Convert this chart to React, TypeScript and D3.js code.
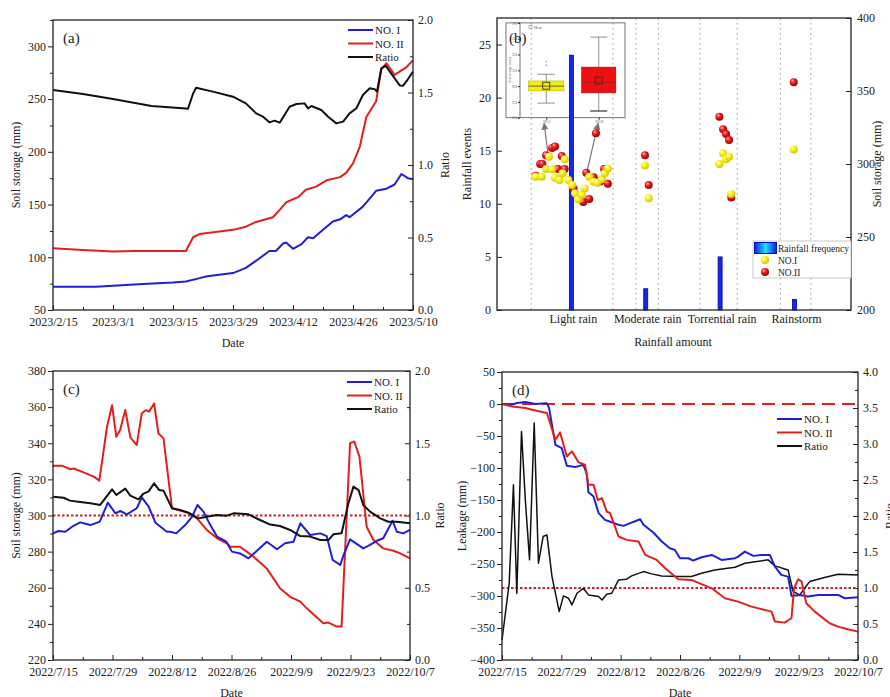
import React, { useEffect, useRef } from "react";
import * as d3 from "d3";

type Pt = [number, number];

const FONT = "'Liberation Serif', 'Times New Roman', serif";
const BLUE = "#1f1fd6";
const RED = "#e0201c";
const BLACK = "#111111";

// ---- (a) spring 2023, [day since 2023/2/15, value]
const aNoI: Pt[] = [[0,72],[10,72],[14,73],[21,74.6],[28,76],[31,77],[34,80],[36,82],[42,85],[45,90],[47.5,97],[50.5,106],[52,106],[53.7,113],[54.4,114],[56,108],[58,112.5],[59.5,119],[60.7,118],[63,126],[65.3,134],[67,136],[68.4,140],[69.2,138],[72.3,148],[75.4,163],[77.8,165],[79.7,169],[81.3,179],[82.8,175],[84,174]];
const aNoII: Pt[] = [[0,108.5],[7,107],[14,105.5],[18.7,106],[31,106],[32.7,119],[34.2,122],[42,126],[45,129],[47.4,133.5],[51.3,138],[52.9,145],[54.4,152],[56,155],[57.2,157],[59,164],[61.4,167],[63.8,173],[67,176],[68.4,180],[70,189],[71.6,205],[73.1,233],[75.4,248],[76.6,278],[77.8,284],[79.7,273],[82.4,280],[84,287]];
const aRatio: Pt[] = [[0,1.517],[7,1.49],[14,1.455],[23,1.407],[31,1.39],[31.5,1.388],[32.7,1.494],[33.4,1.533],[37.3,1.506],[42,1.471],[45,1.425],[47.4,1.356],[49,1.333],[50.5,1.294],[51.7,1.306],[52.9,1.292],[55.2,1.402],[56.8,1.421],[58.7,1.425],[59.5,1.391],[60.3,1.407],[62.6,1.379],[64.2,1.333],[66.1,1.287],[67.7,1.299],[69.2,1.356],[70.8,1.391],[72.3,1.483],[73.9,1.529],[75.1,1.522],[75.6,1.506],[76.6,1.667],[77.6,1.685],[78.9,1.632],[80.9,1.549],[81.7,1.547],[82.8,1.591],[84,1.644]];

// ---- (c) summer 2022, [day since 2022/7/15, value]
const cNoI: Pt[] = [[0,290.1],[1.3,291.4],[2.9,291],[4.5,293.8],[6.4,296.2],[8.8,294.7],[11,296.6],[12.9,307.1],[14.7,301.2],[15.8,302.5],[17.4,300.6],[19.7,304],[20.9,310],[22.5,304.9],[24.1,296],[26.8,291],[27.6,291],[29,290.1],[31.1,294.7],[32.7,299.3],[34,305.8],[35.4,302.1],[36.6,296.6],[38.6,288.3],[40.8,285.5],[42.1,280],[44,279],[46,276.3],[47.6,279.6],[50.3,285.5],[52.7,281.3],[54.6,284.6],[56.6,285.5],[58.2,295.7],[60.5,289.2],[62.9,290.1],[64.4,288.6],[65.8,275.4],[67.6,272.6],[68.3,277.6],[69.9,286.8],[73,281.8],[74.6,283.7],[76.2,286],[77.7,287.4],[79.9,297.1],[80.9,291],[82.4,290.1],[84,292]];
const cNoII: Pt[] = [[0,327.6],[2.1,327.6],[4.1,325.6],[4.9,326],[7.2,323.9],[9.6,321.5],[10.9,319.3],[12.7,349],[13.9,361],[14.9,343.6],[15.8,347.3],[17,358.4],[18.2,343.3],[19.7,339],[20.9,356.6],[21.9,358.4],[22.6,357.5],[23.8,362],[24.8,345.5],[26,342.7],[28,304],[29.9,302.7],[31.5,301.6],[33.9,298.4],[36.2,292],[38.6,287.4],[40.9,284.6],[41.7,282.7],[44,282.7],[45.6,280],[47.2,277.2],[50.3,270.7],[53.4,259.7],[55.8,255],[58.2,252.3],[59.7,248.6],[63.6,240.3],[64.8,240.7],[66.8,238.5],[67.9,238.5],[69.9,340],[70.9,341],[72.1,332.6],[73.8,293.8],[75.4,286.4],[77.7,281.8],[80.1,280.5],[81.7,279],[84,276.3]];
const cRatio: Pt[] = [[0,1.13],[2.5,1.123],[4,1.103],[6.4,1.093],[8.8,1.084],[11.1,1.073],[13.9,1.181],[14.9,1.142],[17,1.186],[18.2,1.137],[20.1,1.112],[21.2,1.149],[22.5,1.167],[23.8,1.223],[25,1.176],[26,1.172],[28,1.05],[29.9,1.038],[31.9,1.02],[34.2,0.98],[36.2,0.992],[38.6,1.003],[40.9,0.999],[42.5,1.015],[46,1.008],[48.7,0.969],[51.1,0.937],[53.4,0.927],[55.8,0.9],[58.2,0.858],[60.5,0.854],[62.9,0.83],[64.8,0.83],[66,0.87],[67.9,0.877],[69.5,1.084],[70.7,1.2],[71.9,1.176],[73,1.073],[74.6,1.027],[77,0.98],[78.9,0.957],[80.9,0.957],[84,0.946]];

// ---- (d) leakage, summer 2022
const dNoI: Pt[] = [[0,0],[2.4,-1],[3.5,1.5],[5.5,3],[7.9,0],[10.6,1],[11.1,-6],[12.6,-63.7],[14.1,-69],[15.3,-96.6],[17.3,-98.6],[19.2,-95],[20,-109],[20.4,-138],[21.6,-144.5],[22.8,-170.6],[24.3,-181],[25.9,-184.7],[27.5,-188.8],[28.7,-190.4],[29.8,-187.3],[32.6,-180],[33.4,-188.8],[35.7,-200.8],[37.7,-214.9],[39.6,-225.3],[40.8,-228],[42,-241],[44,-241],[45.1,-244.6],[47.1,-239.4],[49.5,-235.8],[51.8,-243.6],[55,-241],[55.7,-238.4],[57.3,-230.6],[59.3,-237.3],[61.2,-235.8],[63.2,-235.8],[64.4,-254],[65.9,-267],[67.5,-269.7],[68.3,-299.9],[70.3,-298.3],[72.2,-300.9],[74.6,-298.3],[76.9,-298.3],[79.3,-298.3],[80.9,-303.5],[84,-302]];
const dNoII: Pt[] = [[0,0],[2.4,-4],[5.5,-6.4],[7.9,-10],[10.6,-14],[12.6,-56],[13.7,-44.4],[15.3,-82],[16.5,-74],[18.1,-91.3],[19.6,-95],[20.4,-126.3],[21.6,-126.3],[22.6,-150],[23.6,-147.1],[24.7,-168],[25.5,-170.6],[27.5,-207],[29.4,-212.3],[32.2,-214.9],[33.8,-235.8],[36.5,-243.6],[38.5,-256.6],[41.6,-273.8],[44.7,-274.9],[49.5,-288],[52.6,-303.5],[55.7,-308.8],[58.9,-316.6],[63.6,-324.4],[64.4,-340],[66.7,-341.6],[68.3,-334.8],[68.9,-288],[69.9,-273.8],[70.7,-277.5],[71.8,-311.4],[73.8,-324.4],[77.3,-342.6],[79.3,-347.9],[81.6,-352],[84,-355.7]];
const dRatio: Pt[] = [[0,0.278],[0.8,0.649],[1.7,1.066],[2.7,2.433],[3.5,0.927],[4.6,3.175],[5.5,2.225],[6.5,1.391],[7.6,3.291],[8.6,1.344],[9.7,1.715],[10.6,1.738],[11.8,1.159],[13.5,0.672],[14.5,0.89],[15.7,0.857],[16.5,0.765],[17.7,0.927],[19.2,0.997],[20.4,0.904],[22.8,0.881],[23.6,0.834],[24.7,0.913],[25.9,0.927],[27.5,1.112],[29.4,1.122],[30.6,1.168],[33.4,1.228],[35.3,1.196],[37.7,1.168],[41.6,1.159],[44.7,1.159],[47.1,1.205],[50.2,1.251],[55,1.289],[57.3,1.344],[62.8,1.391],[64.4,1.307],[67.5,1.251],[68.7,0.95],[70.3,0.904],[71.4,0.997],[72.6,1.089],[76.1,1.145],[79.3,1.191],[84,1.182]];

// ---- (b) rainfall classes
const rainCats = ["Light rain", "Moderate rain", "Torrential rain", "Rainstorm"];
const rainFreq = [24, 2, 5, 1];
const bGrid = [0.46, 1.56, 1.87, 2.17, 2.73, 3.23, 3.81, 4.22];
// [category position, soil storage]
const bNoI: Pt[] = [[0.52,291.3],[0.6,291.3],[0.66,296.6],[0.7,305],[0.74,296.4],[0.78,290.6],[0.84,289],[0.91,303.2],[0.88,293.6],[0.96,289],[1.01,285.6],[1.05,280],[1.09,275.8],[1.14,278.8],[1.18,283.3],[1.24,291.3],[1.3,287.9],[1.35,287.2],[1.41,289.5],[1.45,293.6],[1.49,297],[1.99,299],[2.04,276.5],[2.99,300],[3.04,307.3],[3.08,303.2],[3.12,305],[3.15,279.5],[3.99,310]];
const bNoII: Pt[] = [[0.52,292],[0.58,300],[0.61,300],[0.66,306],[0.74,311],[0.78,312],[0.87,305.5],[0.82,296.5],[0.91,296.5],[1.03,283],[1.16,274],[1.24,276],[1.2,294],[1.33,321],[1.3,291],[1.39,288],[1.44,296.5],[1.49,286.5],[1.99,306],[2.04,285.6],[2.99,332.4],[3.04,323.8],[3.08,320.5],[3.12,316.4],[3.15,277],[3.99,356]];
// inset box plot: [lower whisker, q1, median, q3, upper whisker]
const boxNoI = [268.5, 284, 290, 296.5, 305];
const boxNoII = [258.5, 281.5, 295.5, 314, 352];
const meanNoI = 290.5;
const meanNoII = 297;
const outNoI = [316.5, 321];
const insetTicks = [250, 270, 290, 310, 330, 350, 370];

const legendNames = ["NO. I", "NO. II", "Ratio"];

const DAY = 864e5;
const fmtDate = d3.timeFormat("%Y/%-m/%-d");

function styleAxis(a: any, size = 12) {
  a.attr("font-family", FONT).attr("font-size", size);
  a.select(".domain").remove();
  a.selectAll("line").attr("stroke", "#222").attr("stroke-width", 1);
  a.selectAll("text").attr("fill", "#222");
  return a;
}

function vText(g: any, x: number, y: number, t: string) {
  g.append("text")
    .attr("transform", `translate(${x},${y}) rotate(-90)`)
    .attr("text-anchor", "middle")
    .attr("font-family", FONT)
    .attr("font-size", 12)
    .attr("fill", "#222")
    .text(t);
}

function linePanel(svg: any, o: any) {
  const g = svg.append("g");
  const start = o.start as Date;
  const x = d3.scaleTime().domain([start, new Date(start.getTime() + 84 * DAY)]).range([o.x0, o.x1]);
  const yl = d3.scaleLinear().domain(o.left).range([o.y1, o.y0]);
  const yr = d3.scaleLinear().domain(o.right).range([o.y1, o.y0]);
  const xd = (d: number) => x(new Date(start.getTime() + d * DAY));

  const majors = d3.range(0, 85, 14).map((d) => new Date(start.getTime() + d * DAY));
  const minors = d3.range(7, 85, 14).map((d) => new Date(start.getTime() + d * DAY));

  styleAxis(g.append("g").attr("transform", `translate(0,${o.y1})`)
    .call(d3.axisBottom(x).tickValues(majors).tickFormat(fmtDate as any).tickSize(-5).tickPadding(7)));
  styleAxis(g.append("g").attr("transform", `translate(0,${o.y1})`)
    .call(d3.axisBottom(x).tickValues(minors).tickFormat(() => "").tickSize(-3)));

  styleAxis(g.append("g").attr("transform", `translate(${o.x0},0)`)
    .call(d3.axisLeft(yl).tickValues(o.leftTicks).tickFormat(d3.format("d")).tickSize(5).tickPadding(o.lpad)));
  styleAxis(g.append("g").attr("transform", `translate(${o.x0},0)`)
    .call(d3.axisLeft(yl).tickValues(o.leftMinor).tickFormat(() => "").tickSize(3)));

  styleAxis(g.append("g").attr("transform", `translate(${o.x1},0)`)
    .call(d3.axisRight(yr).tickValues(o.rightTicks).tickFormat(d3.format(".1f")).tickSize(-5).tickPadding(5)));
  styleAxis(g.append("g").attr("transform", `translate(${o.x1},0)`)
    .call(d3.axisRight(yr).tickValues(o.rightMinor).tickFormat(() => "").tickSize(-3)));

  // reference lines
  if (o.dashZero !== undefined) {
    g.append("line").attr("x1", o.x0).attr("x2", o.x1)
      .attr("y1", yl(o.dashZero)).attr("y2", yl(o.dashZero))
      .attr("stroke", RED).attr("stroke-width", 2).attr("stroke-dasharray", "13,7");
  }
  if (o.dotRatio !== undefined) {
    g.append("line").attr("x1", o.x0).attr("x2", o.x1)
      .attr("y1", yr(o.dotRatio)).attr("y2", yr(o.dotRatio))
      .attr("stroke", "#d42020").attr("stroke-width", 2).attr("stroke-dasharray", "2.5,2");
  }

  const lineL = d3.line<Pt>().x((d) => xd(d[0])).y((d) => yl(d[1]));
  const lineR = d3.line<Pt>().x((d) => xd(d[0])).y((d) => yr(d[1]));
  const ser = [
    { d: o.noI, c: BLUE, f: lineL, w: 2 },
    { d: o.noII, c: RED, f: lineL, w: 2 },
    { d: o.ratio, c: BLACK, f: lineR, w: o.ratioW },
  ];
  const order = o.order as number[];
  order.forEach((i) => {
    const s = ser[i];
    g.append("path").attr("d", s.f(s.d)).attr("fill", "none")
      .attr("stroke", s.c).attr("stroke-width", s.w).attr("stroke-linejoin", "round");
  });

  g.append("rect").attr("x", o.x0).attr("y", o.y0)
    .attr("width", o.x1 - o.x0).attr("height", o.y1 - o.y0)
    .attr("fill", "none").attr("stroke", "#222").attr("stroke-width", 1.3);

  // legend
  legendNames.forEach((n, i) => {
    const ly = o.legY + i * 13.5;
    g.append("line").attr("x1", o.legX).attr("x2", o.legX + 25).attr("y1", ly).attr("y2", ly)
      .attr("stroke", ser[i].c).attr("stroke-width", 2);
    g.append("text").attr("x", o.legX + 27).attr("y", ly + 4)
      .attr("font-family", FONT).attr("font-size", 11).attr("fill", "#222").text(n);
  });

  g.append("text").attr("x", o.x0 + 10).attr("y", o.y0 + 23)
    .attr("font-family", FONT).attr("font-size", 15).attr("fill", "#222").text(o.tag);

  g.append("text").attr("x", (o.x0 + o.x1) / 2).attr("y", o.y1 + 37)
    .attr("text-anchor", "middle").attr("font-family", FONT).attr("font-size", 12)
    .attr("fill", "#222").text("Date");
  vText(g, o.lLabX, (o.y0 + o.y1) / 2, o.leftLabel);
  vText(g, o.rLabX, (o.y0 + o.y1) / 2, "Ratio");
}

function sphereGrad(defs: any, id: string, c0: string, c1: string, c2: string) {
  const rg = defs.append("radialGradient").attr("id", id)
    .attr("cx", "40%").attr("cy", "38%").attr("r", "62%").attr("fx", "35%").attr("fy", "30%");
  rg.append("stop").attr("offset", "0%").attr("stop-color", c0);
  rg.append("stop").attr("offset", "45%").attr("stop-color", c1);
  rg.append("stop").attr("offset", "100%").attr("stop-color", c2);
}

function rainPanel(svg: any) {
  const g = svg.append("g");
  const x0 = 497, x1 = 851, y0 = 18, y1 = 310;
  const x = d3.scaleLinear().domain([0, 4.76]).range([x0, x1]);
  const y = d3.scaleLinear().domain([0, 27.5]).range([y1, y0]);
  const yr = d3.scaleLinear().domain([200, 400]).range([y1, y0]);

  const defs = svg.append("defs");
  sphereGrad(defs, "sphR", "#ffb4b4", "#f01a1a", "#9a0000");
  sphereGrad(defs, "sphY", "#ffffd8", "#fff21a", "#d6c400");
  const lg = defs.append("linearGradient").attr("id", "barG");
  lg.append("stop").attr("offset", "0%").attr("stop-color", "#0a1ee0");
  lg.append("stop").attr("offset", "50%").attr("stop-color", "#22e0ff");
  lg.append("stop").attr("offset", "100%").attr("stop-color", "#0a1ee0");
  defs.append("marker").attr("id", "arr").attr("viewBox", "0 0 10 10").attr("refX", 9).attr("refY", 5)
    .attr("markerWidth", 6).attr("markerHeight", 6).attr("orient", "auto")
    .append("path").attr("d", "M0,0 L10,5 L0,10 z").attr("fill", "#777");

  // dotted grid
  g.selectAll("line.grid").data(bGrid).join("line").attr("class", "grid")
    .attr("x1", (d: number) => x(d)).attr("x2", (d: number) => x(d)).attr("y1", y0).attr("y2", y1)
    .attr("stroke", "#9a9a9a").attr("stroke-width", 1).attr("stroke-dasharray", "1.5,3.5");

  // inset box plot
  const ig = g.append("g");
  const ix = d3.scaleLinear().domain([0.5, 2.5]).range([520, 625]);
  const iy = d3.scaleLinear().domain([250, 370]).range([117.7, 22.9]);
  ig.append("rect").attr("x", 506).attr("y", 22.9).attr("width", 119).attr("height", 94.8)
    .attr("fill", "none").attr("stroke", "#555").attr("stroke-width", 0.8);
  ig.append("line").attr("x1", ix(0.5)).attr("x2", ix(0.5)).attr("y1", iy(370)).attr("y2", iy(250))
    .attr("stroke", "#555").attr("stroke-width", 0.8);
  const ia = ig.append("g").attr("transform", `translate(${ix(0.5)},0)`)
    .call(d3.axisLeft(iy).tickValues(insetTicks).tickSize(2).tickPadding(1));
  styleAxis(ia, 3.5);
  ia.selectAll("text").attr("fill", "#666");
  const ib = ig.append("g").attr("transform", `translate(0,${iy(250)})`)
    .call(d3.axisBottom(ix).tickValues([1, 2]).tickFormat((d: any) => (d === 1 ? "NO.I" : "NO.II")).tickSize(2).tickPadding(1));
  styleAxis(ib, 3.5);
  ib.selectAll("text").attr("fill", "#666");
  ig.append("text").attr("transform", `translate(511,70) rotate(-90)`).attr("text-anchor", "middle")
    .attr("font-family", FONT).attr("font-size", 3.5).attr("fill", "#666").text("Soil storage (mm)");
  ig.append("rect").attr("x", 529).attr("y", 25.5).attr("width", 3).attr("height", 3)
    .attr("fill", "none").attr("stroke", "#666").attr("stroke-width", 0.5);
  ig.append("text").attr("x", 534).attr("y", 28.5).attr("font-family", FONT).attr("font-size", 3.5)
    .attr("fill", "#666").text("Mean");

  const boxes = [
    { c: 1, b: boxNoI, m: meanNoI, out: outNoI, fill: "#f4ee10", stroke: "#b8b400", w: 0.67 },
    { c: 2, b: boxNoII, m: meanNoII, out: [] as number[], fill: "#ee1010", stroke: "#a00000", w: 0.65 },
  ];
  boxes.forEach((bx) => {
    const cx = ix(bx.c);
    const hw = (ix(bx.c + bx.w / 2) - ix(bx.c - bx.w / 2)) / 2;
    const cw = hw * 0.5;
    ig.append("line").attr("x1", cx).attr("x2", cx).attr("y1", iy(bx.b[0])).attr("y2", iy(bx.b[4]))
      .attr("stroke", "#777").attr("stroke-width", 0.8);
    [bx.b[0], bx.b[4]].forEach((v, k) => {
      ig.append("line").attr("x1", cx - cw).attr("x2", cx + cw).attr("y1", iy(v)).attr("y2", iy(v))
        .attr("stroke", k === 0 && bx.c === 2 ? "#333" : "#777").attr("stroke-width", k === 0 && bx.c === 2 ? 1.2 : 0.8);
    });
    ig.append("rect").attr("x", cx - hw).attr("y", iy(bx.b[3])).attr("width", 2 * hw)
      .attr("height", iy(bx.b[1]) - iy(bx.b[3])).attr("fill", bx.fill).attr("stroke", bx.stroke).attr("stroke-width", 0.6);
    ig.append("line").attr("x1", cx - hw).attr("x2", cx + hw).attr("y1", iy(bx.b[2])).attr("y2", iy(bx.b[2]))
      .attr("stroke", "#444").attr("stroke-width", 0.8);
    ig.append("rect").attr("x", cx - 3.5).attr("y", iy(bx.m) - 3.5).attr("width", 7).attr("height", 7)
      .attr("fill", "none").attr("stroke", "#333").attr("stroke-width", 0.9);
    bx.out.forEach((v) => {
      ig.append("circle").attr("cx", cx).attr("cy", iy(v)).attr("r", 0.7).attr("fill", "#666");
    });
  });

  // bars
  g.selectAll("rect.bar").data(rainFreq).join("rect").attr("class", "bar")
    .attr("x", (_: number, i: number) => x(i + 1) - 2).attr("width", 4)
    .attr("y", (d: number) => y(d)).attr("height", (d: number) => y1 - y(d))
    .attr("fill", "#1428e6").attr("stroke", "#0000a8").attr("stroke-width", 0.8);

  // arrows from scatter to inset
  const arrows = [
    { from: [0.69, 305], to: [0.96, 243] },
    { from: [1.21, 294.7], to: [1.99, 243] },
  ];
  arrows.forEach((a) => {
    g.append("line").attr("x1", x(a.from[0])).attr("y1", yr(a.from[1]))
      .attr("x2", ix(a.to[0])).attr("y2", iy(a.to[1]))
      .attr("stroke", "#777").attr("stroke-width", 1.2).attr("marker-end", "url(#arr)");
  });

  // scatter
  g.selectAll("circle.n2").data(bNoII).join("circle").attr("class", "n2")
    .attr("cx", (d: Pt) => x(d[0])).attr("cy", (d: Pt) => yr(d[1])).attr("r", 4).attr("fill", "url(#sphR)");
  g.selectAll("circle.n1").data(bNoI).join("circle").attr("class", "n1")
    .attr("cx", (d: Pt) => x(d[0])).attr("cy", (d: Pt) => yr(d[1])).attr("r", 4).attr("fill", "url(#sphY)");

  // axes
  styleAxis(g.append("g").attr("transform", `translate(${x0},0)`)
    .call(d3.axisLeft(y).tickValues([0, 5, 10, 15, 20, 25]).tickSize(-5).tickPadding(6)));
  styleAxis(g.append("g").attr("transform", `translate(${x1},0)`)
    .call(d3.axisRight(yr).tickValues([200, 250, 300, 350, 400]).tickSize(-5).tickPadding(6)));
  g.selectAll("text.cat").data(rainCats).join("text").attr("class", "cat")
    .attr("x", (_: string, i: number) => x(i + 1) + 2).attr("y", y1 + 13)
    .attr("text-anchor", "middle").attr("font-family", FONT).attr("font-size", 12).attr("fill", "#222")
    .text((d: string) => d);

  g.append("rect").attr("x", x0).attr("y", y0).attr("width", x1 - x0).attr("height", y1 - y0)
    .attr("fill", "none").attr("stroke", "#222").attr("stroke-width", 1.3);

  // legend
  const lx = 753, ly = 241;
  g.append("rect").attr("x", lx).attr("y", ly).attr("width", x1 - lx).attr("height", 37)
    .attr("fill", "#fff").attr("stroke", "#bbb").attr("stroke-width", 0.8);
  g.append("rect").attr("x", lx + 1.5).attr("y", ly + 1.5).attr("width", 22).attr("height", 11)
    .attr("fill", "url(#barG)").attr("stroke", "#0010c0").attr("stroke-width", 1);
  g.append("circle").attr("cx", lx + 12).attr("cy", ly + 19).attr("r", 4).attr("fill", "url(#sphY)");
  g.append("circle").attr("cx", lx + 12).attr("cy", ly + 31).attr("r", 4).attr("fill", "url(#sphR)");
  ["Rainfall frequency", "NO.I", "NO.II"].forEach((t, i) => {
    g.append("text").attr("x", lx + 25).attr("y", ly + 10.5 + i * 12)
      .attr("font-family", FONT).attr("font-size", 9.5).attr("fill", "#222").text(t);
  });

  g.append("text").attr("x", 509).attr("y", 43).attr("font-family", FONT).attr("font-size", 15)
    .attr("fill", "#222").text("(b)");
  g.append("text").attr("x", 673).attr("y", 346).attr("text-anchor", "middle")
    .attr("font-family", FONT).attr("font-size", 12).attr("fill", "#222").text("Rainfall amount");
  vText(g, 471, 164, "Rainfall events");
  vText(g, 881, 164, "Soil storage (mm)");
}

export default function App() {
  const ref = useRef<SVGSVGElement>(null);

  useEffect(() => {
    const svg = d3.select(ref.current);
    svg.selectAll("*").remove();
    svg.append("rect").attr("width", 890).attr("height", 697).attr("fill", "#fff");

    linePanel(svg, {
      x0: 53, x1: 413, y0: 20, y1: 310, start: new Date(2023, 1, 15),
      left: [50, 325], leftTicks: d3.range(50, 301, 50), leftMinor: d3.range(75, 326, 50), lpad: 2,
      right: [0, 2], rightTicks: d3.range(0, 2.01, 0.5), rightMinor: d3.range(0.25, 2, 0.5),
      noI: aNoI, noII: aNoII, ratio: aRatio, ratioW: 2, order: [0, 1, 2],
      legX: 348, legY: 30, tag: "(a)", leftLabel: "Soil storage (mm)", lLabX: 20, rLabX: 449,
    });
    linePanel(svg, {
      x0: 53, x1: 410, y0: 371, y1: 660, start: new Date(2022, 6, 15),
      left: [220, 380], leftTicks: d3.range(220, 381, 20), leftMinor: d3.range(230, 380, 20), lpad: 2,
      right: [0, 2], rightTicks: d3.range(0, 2.01, 0.5), rightMinor: d3.range(0.25, 2, 0.5),
      noI: cNoI, noII: cNoII, ratio: cRatio, ratioW: 2, order: [1, 0, 2], dotRatio: 1,
      legX: 347, legY: 382, tag: "(c)", leftLabel: "Soil storage (mm)", lLabX: 20, rLabX: 444,
    });
    linePanel(svg, {
      x0: 502, x1: 858, y0: 372, y1: 660, start: new Date(2022, 6, 15),
      left: [-400, 50], leftTicks: d3.range(-400, 51, 50), leftMinor: d3.range(-375, 50, 50), lpad: 2,
      right: [0, 4], rightTicks: d3.range(0, 4.01, 0.5), rightMinor: d3.range(0.25, 4, 0.5),
      noI: dNoI, noII: dNoII, ratio: dRatio, ratioW: 1.5, order: [2, 0, 1], dashZero: 0, dotRatio: 1,
      legX: 777, legY: 419, tag: "(d)", leftLabel: "Leakage (mm)", lLabX: 466, rLabX: 894,
    });
    rainPanel(svg);
  }, []);

  return (
    <svg
      ref={ref}
      width={890}
      height={697}
      style={{ position: "absolute", left: 0, top: 0 }}
    />
  );
}
